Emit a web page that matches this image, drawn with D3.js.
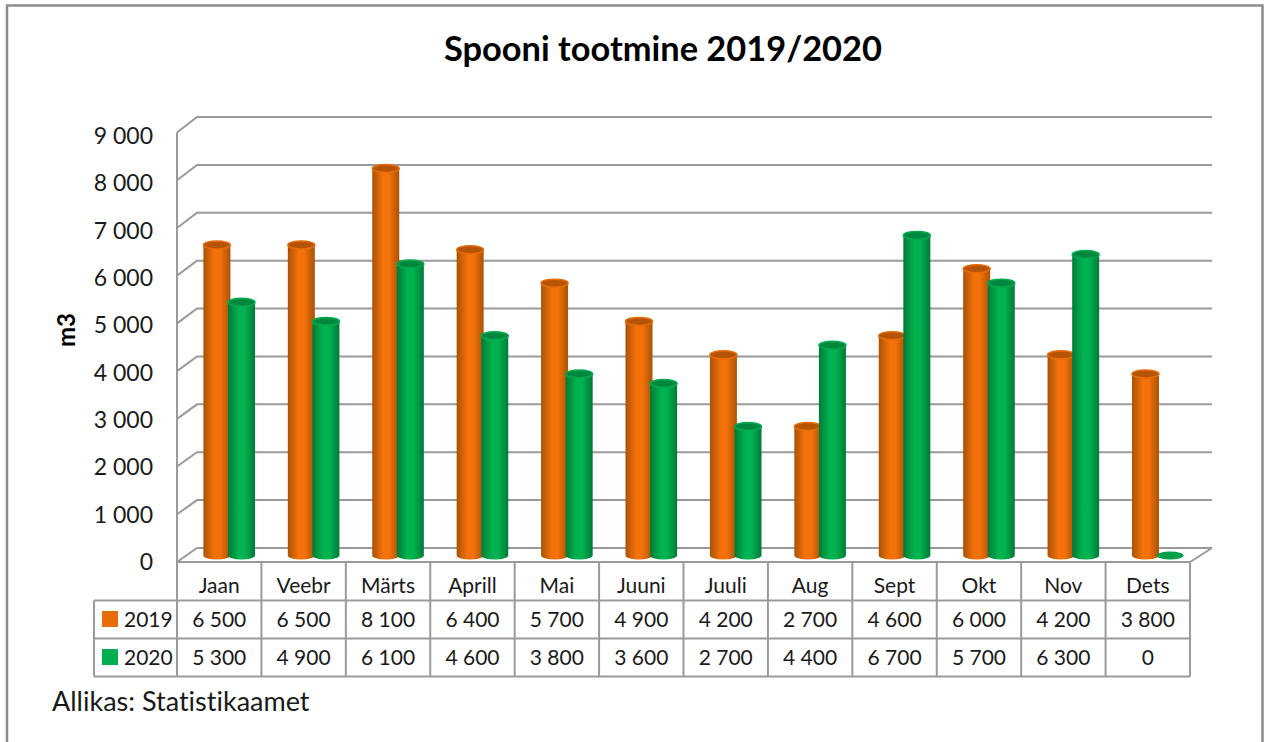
<!DOCTYPE html>
<html>
<head>
<meta charset="utf-8">
<script src="https://cdn.jsdelivr.net/npm/d3@7"></script>
<style>
  body { margin: 0; background: #fff; }
  svg { display: block; }
  text { font-family: Lato, sans-serif; fill: #1a1a1a; font-variant-ligatures: none; }
</style>
</head>
<body>
<svg></svg>
<script>
const months = ["Jaan", "Veebr", "Märts", "Aprill", "Mai", "Juuni", "Juuli", "Aug", "Sept", "Okt", "Nov", "Dets"];
const values2019 = [6500, 6500, 8100, 6400, 5700, 4900, 4200, 2700, 4600, 6000, 4200, 3800];
const values2020 = [5300, 4900, 6100, 4600, 3800, 3600, 2700, 4400, 6700, 5700, 6300, 0];
const seriesNames = ["2019", "2020"];
const yTicks = [0, 1000, 2000, 3000, 4000, 5000, 6000, 7000, 8000, 9000];

const width = 1264, height = 742;
const svg = d3.select("svg").attr("width", width).attr("height", height);

const gridColor = "#9a9a9a";
const fmt = d3.formatLocale({decimal: ".", thousands: " ", grouping: [3], currency: ["", ""]}).format(",d");

// The fake 3D box: front edge and back wall of the chart
const yFront = d3.scaleLinear().domain([0, 9000]).range([562, 132.5]);
const yBack = d3.scaleLinear().domain([0, 9000]).range([548, 117]);
const yBar = d3.scaleLinear().domain([0, 9000]).range([555.5, 125.5]);
const yLabel = d3.scaleLinear().domain([0, 9000]).range([562, 136]);
const frontLeft = 177, backLeft = 197, frontRight = 1190, backRight = 1212;

// Table columns, and the bars sit a bit deeper so they shift right
const xTable = d3.scaleBand().domain(months).range([frontLeft, frontRight]);
const xBars = d3.scaleBand().domain(months).range([frontLeft + 10, frontRight + 10]);
const xSeries = d3.scaleBand().domain(seriesNames).range([0, xBars.bandwidth()]).paddingInner(-0.13).paddingOuter(0.65);
const color = d3.scaleOrdinal().domain(seriesNames).range(["#e86c07", "#00ad50"]);

// Cylinder shading
const defs = svg.append("defs");
const shades = {
  "2019": ["#a95208", "#f47209", "#f47209", "#a95208"],
  "2020": ["#007a38", "#00b350", "#00b350", "#007a38"]
};
seriesNames.forEach(name => {
  const grad = defs.append("linearGradient").attr("id", "cyl" + name);
  [0, 0.4, 0.62, 1].forEach((offset, i) => {
    grad.append("stop").attr("offset", offset).attr("stop-color", shades[name][i]);
  });
});

// Chart frame
svg.append("path")
   .attr("d", `M7,${height} V5.5 H1262.5 V${height}`)
   .attr("fill", "none")
   .attr("stroke", "#8c8c8c")
   .attr("stroke-width", 2.5);

// Title
svg.append("text")
   .attr("x", 663)
   .attr("y", 61)
   .attr("text-anchor", "middle")
   .attr("font-size", 34.4)
   .attr("font-weight", 700)
   .style("fill", "#000")
   .text("Spooni tootmine 2019/2020");

// Gridlines along the back wall, with the slanted piece to the front edge
const grid = svg.append("g").attr("fill", "none").attr("stroke", gridColor).attr("stroke-width", 2);
grid.selectAll("path")
    .data(yTicks)
    .enter()
    .append("path")
    .attr("d", d => `M${frontLeft},${yFront(d)} L${backLeft},${yBack(d)} H${backRight}`);
grid.append("path")
    .attr("d", `M${frontLeft},${yFront(9000)} V${yFront(0)} H${frontRight} L${backRight},${yBack(0)}`);

// Y axis labels
const yAxis = svg.append("g")
                 .attr("transform", "translate(153,0)")
                 .call(d3.axisLeft(yLabel).tickValues(yTicks).tickSize(0).tickPadding(0).tickFormat(fmt));
yAxis.select(".domain").remove();
yAxis.selectAll("text").attr("font-size", 23).style("font-family", "Lato, sans-serif");

svg.append("text")
   .attr("transform", "translate(75,330) rotate(-90)")
   .attr("text-anchor", "middle")
   .attr("font-size", 24)
   .attr("font-weight", 700)
   .style("fill", "#000")
   .text("m3");

// Bars
const rx = 13.5, ry = 4;
const allBars = months.flatMap((m, i) => [
  {month: m, series: "2019", value: values2019[i]},
  {month: m, series: "2020", value: values2020[i]}
]);
const bars = svg.append("g")
                .selectAll("g")
                .data(allBars)
                .enter()
                .append("g")
                .attr("transform", d => `translate(${xBars(d.month) + xSeries(d.series) + xSeries.bandwidth() / 2},0)`);

bars.filter(d => d.value > 0)
    .append("path")
    .attr("d", d => `M${-rx},${yBar(d.value)} V${yBar(0)} A${rx},${ry} 0 0 0 ${rx},${yBar(0)} V${yBar(d.value)} Z`)
    .attr("fill", d => `url(#cyl${d.series})`);

bars.append("ellipse")
    .attr("cy", d => yBar(d.value))
    .attr("rx", rx)
    .attr("ry", ry)
    .attr("fill", d => d.value > 0 ? d3.color(color(d.series)).darker(0.7) : "#00a04a")
    .attr("stroke", d => d.value > 0 ? color(d.series) : "none")
    .attr("stroke-width", 1.5);

// Data table
const rowY = [563, 600.5, 638.5, 676.5];
const rowHeader = 94;
const table = svg.append("g").attr("fill", "none").attr("stroke", gridColor).attr("stroke-width", 2);
table.append("path").attr("d", `M${frontLeft},${rowY[0]} V${rowY[3]}`);
table.selectAll(".col")
     .data(months)
     .enter()
     .append("path")
     .attr("class", "col")
     .attr("d", d => `M${xTable(d) + xTable.bandwidth()},${rowY[0]} V${rowY[3]}`);
table.selectAll(".row")
     .data(rowY.slice(1))
     .enter()
     .append("path")
     .attr("class", "row")
     .attr("d", d => `M${rowHeader},${d} H${frontRight}`);
table.append("path").attr("d", `M${rowHeader},${rowY[1]} V${rowY[3]}`);

const cellFont = 21;
const rowText = [
  {y: rowY[0] + 30, labels: months},
  {y: rowY[1] + 26.5, labels: values2019.map(fmt)},
  {y: rowY[2] + 26.5, labels: values2020.map(fmt)}
];
rowText.forEach(row => {
  svg.append("g")
     .selectAll("text")
     .data(row.labels)
     .enter()
     .append("text")
     .attr("x", (d, i) => xTable(months[i]) + xTable.bandwidth() / 2)
     .attr("y", row.y)
     .attr("text-anchor", "middle")
     .attr("font-size", cellFont)
     .text(d => d);
});

// Legend keys in the row headers
seriesNames.forEach((name, i) => {
  svg.append("rect")
     .attr("x", 102)
     .attr("y", rowY[i + 1] + 10.5)
     .attr("width", 16)
     .attr("height", 16)
     .attr("fill", color(name));
  svg.append("text")
     .attr("x", 124)
     .attr("y", rowY[i + 1] + 26)
     .attr("font-size", cellFont)
     .text(name);
});

// Source note
svg.append("text")
   .attr("x", 52)
   .attr("y", 711)
   .attr("font-size", 27)
   .text("Allikas: Statistikaamet");
</script>
</body>
</html>
